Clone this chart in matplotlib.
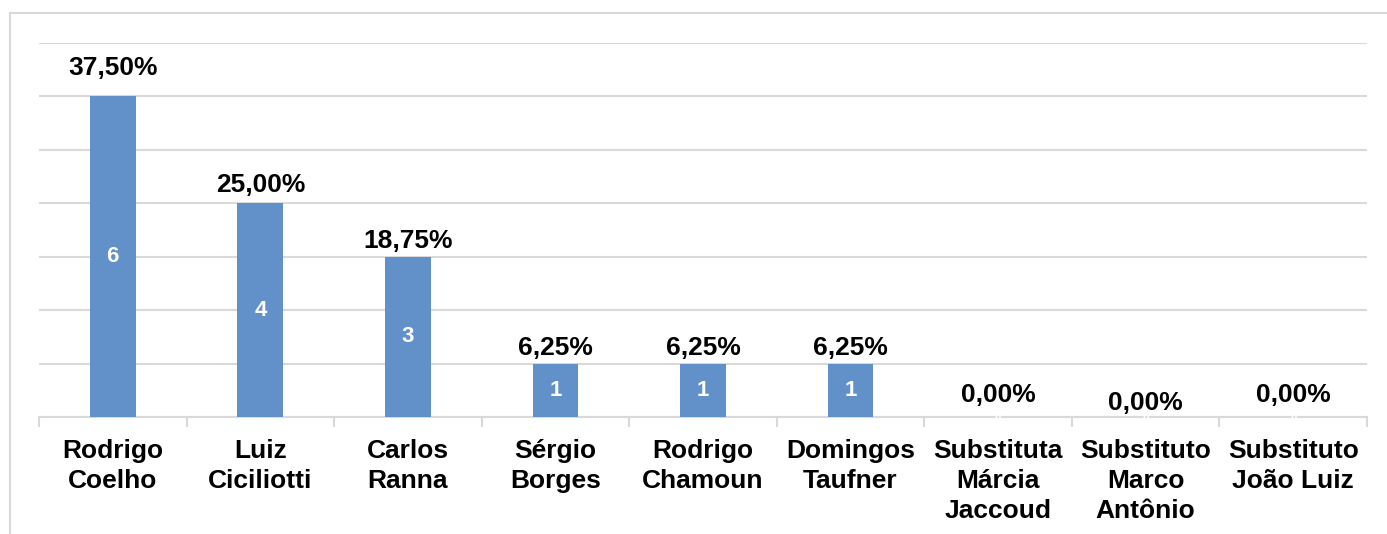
import matplotlib
matplotlib.use("Agg")
import matplotlib.pyplot as plt
from matplotlib.patches import Rectangle

categories = ["Rodrigo\nCoelho", "Luiz\nCiciliotti", "Carlos\nRanna", "Sérgio\nBorges",
              "Rodrigo\nChamoun", "Domingos\nTaufner", "Substituta\nMárcia\nJaccoud",
              "Substituto\nMarco\nAntônio", "Substituto\nJoão Luiz"]
votes = [6, 4, 3, 1, 1, 1, 0, 0, 0]
percent_labels = ["37,50%", "25,00%", "18,75%", "6,25%", "6,25%", "6,25%", "0,00%", "0,00%", "0,00%"]

plt.rcParams['font.family'] = ['Liberation Sans', 'DejaVu Sans']

fig = plt.figure(figsize=(13.87, 5.34), dpi=100)
ax = fig.add_axes([39/1387, 1-417/534, (1367-39)/1387, (417-43)/534])

# outer chart border
fig.patches.append(Rectangle((10/1387, -0.1), 1.2, 1-13/534+0.1, transform=fig.transFigure,
                             fill=False, edgecolor='#D9D9D9', linewidth=1.5, zorder=0))

x = list(range(len(categories)))
ax.bar(x, votes, width=0.31, color='#6290C8', zorder=3)

ax.set_xlim(-0.5, len(categories) - 0.5)
ax.set_ylim(0, 7)
ax.set_yticks(range(0, 8))
ax.yaxis.grid(True, color='#D9D9D9', linewidth=1.5, zorder=0)
ax.tick_params(axis='y', left=False, labelleft=False)
for s in ['top', 'right', 'left']:
    ax.spines[s].set_visible(False)
ax.spines['bottom'].set_color('#D9D9D9')
ax.spines['bottom'].set_linewidth(1.5)

ax.set_xticks(x)
ax.set_xticklabels(categories, fontsize=19, fontweight='bold', linespacing=1.3)
ax.tick_params(axis='x', length=0, pad=16)
# boundary tick marks
ax.set_xticks([i - 0.5 for i in range(len(categories) + 1)], minor=True)
ax.tick_params(axis='x', which='minor', length=7, color='#D9D9D9', width=1.5)

# label gap above each bar (in pixels, as placed in the reference)
label_gap_px = [28, 18, 16, 16, 16, 16, 22, 14, 22]
px_per_unit = (417 - 43) / 7

for xi, v, lab, gap in zip(x, votes, percent_labels, label_gap_px):
    ax.text(xi, v + gap / px_per_unit, lab, ha='center', va='center', fontsize=19,
            fontweight='bold', color='black', zorder=5)
    if v > 0:
        ax.text(xi, v / 2, str(v), ha='center', va='center', fontsize=16,
                fontweight='bold', color='white', zorder=5)
    else:
        ax.text(xi, -0.03, str(v), ha='center', va='center', fontsize=8,
                fontweight='bold', color='white', zorder=5, clip_on=False)

fig.savefig("out.png", dpi=100)
